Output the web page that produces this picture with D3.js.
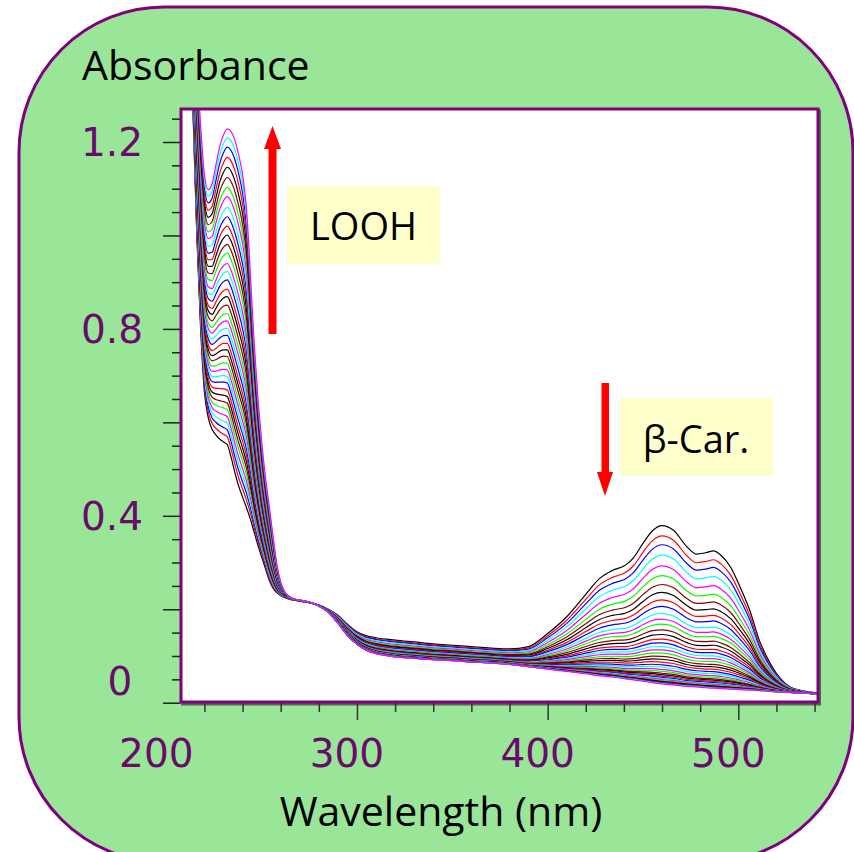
<!DOCTYPE html>
<html><head><meta charset="utf-8">
<script src="https://cdn.jsdelivr.net/npm/d3@7"></script>
<style>html,body{margin:0;padding:0;background:#fff;} svg{display:block;}</style>
</head><body>
<svg id="chart" width="854" height="852"></svg>
<script>
// ---- data ----
const wavelengths = [207,210,212,214,216,218,220,222,224,226,228,230,232,234,236,238,240,242,244,246,248,250,252,254,256,258,260,262,265,268,272,276,280,285,290,295,300,305,310,320,330,340,350,360,370,380,390,400,410,420,427,434,441,445,450,455,460,466,473,478,483,487,491,496,501,506,511,517,522,527,532,537,542];
// first recorded spectrum (t = 0, black, top in the β-carotene band)
const firstSpectrum = [2.2,1.75,1.48,1.265,1.0,0.80,0.665,0.61,0.585,0.573,0.564,0.558,0.552,0.525,0.492,0.463,0.44,0.418,0.394,0.366,0.338,0.312,0.287,0.262,0.245,0.235,0.229,0.225,0.221,0.219,0.216,0.213,0.209,0.2,0.187,0.168,0.152,0.143,0.139,0.134,0.13,0.126,0.123,0.12,0.117,0.115,0.12,0.148,0.184,0.232,0.265,0.283,0.295,0.31,0.341,0.368,0.379,0.369,0.334,0.318,0.321,0.325,0.315,0.29,0.247,0.198,0.134,0.082,0.052,0.034,0.027,0.023,0.02];
// last recorded spectrum (top in the LOOH band)
const lastSpectrum = [2.6,2.15,1.85,1.58,1.38,1.235,1.13,1.098,1.11,1.15,1.19,1.215,1.228,1.222,1.203,1.172,1.13,1.06,0.925,0.775,0.655,0.56,0.483,0.42,0.355,0.295,0.258,0.238,0.226,0.221,0.218,0.214,0.207,0.193,0.17,0.144,0.125,0.112,0.105,0.098,0.095,0.092,0.09,0.087,0.085,0.082,0.077,0.072,0.067,0.062,0.058,0.055,0.051,0.049,0.046,0.043,0.04,0.038,0.035,0.034,0.032,0.031,0.03,0.029,0.028,0.027,0.026,0.024,0.023,0.022,0.021,0.02,0.018];
// absorbance of every spectrum at the β-carotene maximum (460 nm), first to last
const carotene460 = [0.379,0.357,0.338,0.316,0.293,0.272,0.253,0.236,0.220,0.206,0.191,0.179,0.168,0.156,0.146,0.136,0.128,0.120,0.113,0.106,0.099,0.093,0.087,0.081,0.076,0.071,0.067,0.063,0.060,0.057,0.054,0.0515,0.0495,0.0475,0.0458,0.0443,0.043,0.042,0.041,0.040];
// absorbance of every spectrum at the LOOH maximum (232 nm), first to last
const looh232 = [0.552,0.569,0.584,0.598,0.612,0.627,0.641,0.655,0.669,0.684,0.698,0.712,0.726,0.741,0.755,0.769,0.786,0.801,0.817,0.833,0.851,0.869,0.885,0.905,0.923,0.940,0.962,0.981,1.001,1.020,1.040,1.060,1.083,1.103,1.124,1.146,1.167,1.189,1.209,1.228];
const seriesColors = ["#000000","#ff0000","#0000ff","#00ffff","#ff00ff","#00ff00","#880000"];
const xTickLabels = [200,300,400,500];
const yTickLabels = [0,0.4,0.8,1.2];
const xAxisTitle = "Wavelength (nm)";
const yAxisTitle = "Absorbance";
const annotationLabels = ["LOOH","β-Car."];

// ---- drawing ----
const svg = d3.select("#chart");
const plot = {left:181, right:818, top:109, bottom:702};
const x = d3.scaleLinear().domain([200,500]).range([166.3,738.3]);
const y = d3.scaleLinear().domain([0,1.2]).range([702.7,142]);

// background rounded panel
svg.append("rect").attr("x",19).attr("y",7).attr("width",834).attr("height",855).attr("rx",145).attr("ry",145)
  .attr("fill","#99e699").attr("stroke","#800080").attr("stroke-width",3);

// plot frame shadow + frame
svg.append("rect").attr("x",plot.left+1.5).attr("y",plot.top+2).attr("width",plot.right-plot.left).attr("height",plot.bottom-plot.top)
  .attr("fill","none").attr("stroke","#556655").attr("stroke-width",3);
svg.append("rect").attr("x",plot.left).attr("y",plot.top).attr("width",plot.right-plot.left).attr("height",plot.bottom-plot.top)
  .attr("fill","#ffffff");

svg.append("clipPath").attr("id","clip").append("rect")
  .attr("x",plot.left).attr("y",plot.top).attr("width",plot.right-plot.left).attr("height",plot.bottom-plot.top);

// spectra
const nSpec = carotene460.length;
const cFirst = carotene460[0], cLast = carotene460[nSpec-1];
const lFirst = looh232[0], lLast = looh232[nSpec-1];
const spectra = d3.range(nSpec).map(i => {
  const fc = (carotene460[i]-cLast)/(cFirst-cLast);
  const fl = (looh232[i]-lLast)/(lFirst-lLast);
  return wavelengths.map((w,k) => {
    const t = Math.max(0, Math.min(1, (w-262)/(290-262)));
    const f = fl*(1-t) + fc*t;
    return [w, lastSpectrum[k] + f*(firstSpectrum[k]-lastSpectrum[k])];
  });
});
const line = d3.line().x(d=>x(d[0])).y(d=>y(d[1])).curve(d3.curveMonotoneX);
svg.append("g").attr("clip-path","url(#clip)")
  .selectAll("path").data(spectra).join("path")
  .attr("d",line).attr("fill","none")
  .attr("stroke",(d,i)=>seriesColors[i%seriesColors.length])
  .attr("stroke-width",1.2);

// frame border on top
svg.append("rect").attr("x",plot.left).attr("y",plot.top).attr("width",plot.right-plot.left).attr("height",plot.bottom-plot.top)
  .attr("fill","none").attr("stroke","#800080").attr("stroke-width",3);

// axes (ticks only)
const yAxis = d3.axisLeft(y).tickValues(d3.range(0,1.2501,0.05)).tickSize(8).tickFormat("");
const gy = svg.append("g").attr("transform",`translate(${plot.left-1},0)`).call(yAxis);
gy.select(".domain").remove();
gy.selectAll(".tick line").attr("stroke","#222").attr("stroke-width",1.5)
  .attr("x2",d => (Math.abs(d/0.2-Math.round(d/0.2))<1e-6) ? -17 : -8);

const xAxis = d3.axisBottom(x).tickValues(d3.range(220,541,20)).tickSize(9).tickFormat("");
const gx = svg.append("g").attr("transform",`translate(0,${plot.bottom+1})`).call(xAxis);
gx.select(".domain").remove();
gx.selectAll(".tick line").attr("stroke","#333").attr("stroke-width",1.5)
  .attr("y2",d => d%100===0 ? 17 : 9);

// tick labels
const tickFont = "'DejaVu Sans', sans-serif";
svg.append("g").selectAll("text").data(xTickLabels).join("text")
  .attr("x",d=>x(d)-10).attr("y",767).attr("text-anchor","middle")
  .attr("font-family",tickFont).attr("font-size",39).attr("fill","#6a0a6a").text(d=>d);
svg.append("g").selectAll("text").data(yTickLabels).join("text")
  .attr("x",d=> d===0 ? 120 : 112).attr("y",d=> d===0 ? y(d)-8 : y(d)+14).attr("text-anchor","middle")
  .attr("font-family",tickFont).attr("font-size",39).attr("fill","#6a0a6a").text(d=>d);

// axis titles
const titleFont = "'Open Sans', sans-serif";
svg.append("text").attr("x",82).attr("y",80).attr("font-family",titleFont).attr("font-size",41)
  .attr("fill","#000").text(yAxisTitle);
svg.append("text").attr("x",441).attr("y",826).attr("text-anchor","middle").attr("font-family",titleFont)
  .attr("font-size",41).attr("fill","#000").text(xAxisTitle);

// annotations: arrows and labels
svg.append("rect").attr("x",268.5).attr("y",148).attr("width",8).attr("height",186).attr("fill","#ff0000");
svg.append("path").attr("d","M264,149 L281,149 L272.5,126 Z").attr("fill","#ff0000");
svg.append("rect").attr("x",601.5).attr("y",383).attr("width",7.5).attr("height",92).attr("fill","#ff0000");
svg.append("path").attr("d","M597,472 L613,472 L605,496 Z").attr("fill","#ff0000");

svg.append("rect").attr("x",287).attr("y",186).attr("width",153).attr("height",78).attr("fill","#ffffcc");
svg.append("text").attr("x",363.5).attr("y",240).attr("text-anchor","middle").attr("font-family",titleFont)
  .attr("font-size",38).attr("fill","#000").text(annotationLabels[0]);
svg.append("rect").attr("x",620).attr("y",398).attr("width",153).attr("height",78).attr("fill","#ffffcc");
svg.append("text").attr("x",696).attr("y",453).attr("text-anchor","middle").attr("font-family",titleFont)
  .attr("font-size",38).attr("fill","#000").text(annotationLabels[1]);
</script>
</body></html>
